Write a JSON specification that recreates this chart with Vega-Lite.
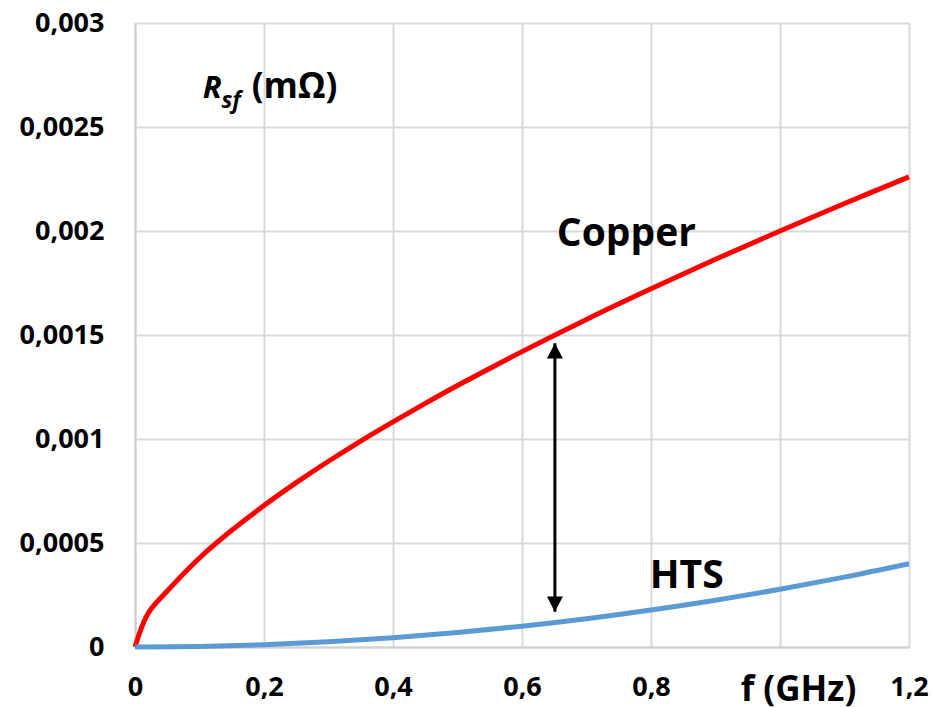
{
  "$schema": "https://vega.github.io/schema/vega-lite/v6.json",
  "width": 774,
  "height": 624,
  "autosize": {"type": "none"},
  "padding": {"left": 135, "top": 23, "right": 24, "bottom": 61},
  "background": "white",
  "config": {
    "view": {"stroke": null},
    "font": "Open Sans",
    "axis": {
      "labelFont": "Open Sans",
      "labelFontWeight": "bold",
      "labelColor": "#000000",
      "labelFlush": false,
      "labelOverlap": false,
      "gridColor": "#d9d9d9",
      "gridWidth": 2,
      "domainColor": "#d0d0d0",
      "domainWidth": 2,
      "ticks": false
    }
  },
  "datasets": {
    "curves": [
      {"series": "Copper", "f": 0, "r": 0},
      {"series": "Copper", "f": 0.02, "r": 0.00016},
      {"series": "Copper", "f": 0.05, "r": 0.000269},
      {"series": "Copper", "f": 0.1, "r": 0.000428},
      {"series": "Copper", "f": 0.15, "r": 0.000561},
      {"series": "Copper", "f": 0.2, "r": 0.00068},
      {"series": "Copper", "f": 0.25, "r": 0.00079},
      {"series": "Copper", "f": 0.3, "r": 0.000893},
      {"series": "Copper", "f": 0.35, "r": 0.00099},
      {"series": "Copper", "f": 0.4, "r": 0.001082},
      {"series": "Copper", "f": 0.45, "r": 0.001171},
      {"series": "Copper", "f": 0.5, "r": 0.001257},
      {"series": "Copper", "f": 0.6, "r": 0.00142},
      {"series": "Copper", "f": 0.7, "r": 0.001575},
      {"series": "Copper", "f": 0.8, "r": 0.001722},
      {"series": "Copper", "f": 0.9, "r": 0.001864},
      {"series": "Copper", "f": 1.0, "r": 0.002},
      {"series": "Copper", "f": 1.1, "r": 0.002132},
      {"series": "Copper", "f": 1.2, "r": 0.00226},
      {"series": "HTS", "f": 0, "r": 0},
      {"series": "HTS", "f": 0.1, "r": 0.0000028},
      {"series": "HTS", "f": 0.2, "r": 0.0000111},
      {"series": "HTS", "f": 0.3, "r": 0.000025},
      {"series": "HTS", "f": 0.4, "r": 0.0000445},
      {"series": "HTS", "f": 0.5, "r": 0.0000695},
      {"series": "HTS", "f": 0.6, "r": 0.0001},
      {"series": "HTS", "f": 0.7, "r": 0.000136},
      {"series": "HTS", "f": 0.8, "r": 0.000178},
      {"series": "HTS", "f": 0.9, "r": 0.000225},
      {"series": "HTS", "f": 1.0, "r": 0.000278},
      {"series": "HTS", "f": 1.1, "r": 0.000336},
      {"series": "HTS", "f": 1.2, "r": 0.0004}
    ],
    "gap": [
      {"f": 0.651, "lo": 0.00017, "hi": 0.00146}
    ],
    "labels": [
      {"f": 0.654, "r": 0.00193, "text": "Copper"},
      {"f": 0.798, "r": 0.000284, "text": "HTS"}
    ]
  },
  "layer": [
    {
      "data": {"name": "curves"},
      "mark": {"type": "line", "strokeWidth": 5, "interpolate": "catmull-rom", "strokeCap": "butt"},
      "encoding": {
        "x": {
          "field": "f",
          "type": "quantitative",
          "scale": {"domain": [0, 1.2], "nice": false},
          "axis": {
            "values": [0, 0.2, 0.4, 0.6, 0.8, 1, 1.2],
            "labelExpr": "datum.value == 1 ? '' : replace(toString(datum.value), '.', ',')",
            "labelFontSize": 27,
            "labelPadding": 27,
            "title": "f (GHz)",
            "titleFont": "Open Sans",
            "titleFontWeight": "bold",
            "titleFontSize": 35,
            "titleColor": "#000000",
            "titleAlign": "center",
            "titleBaseline": "alphabetic",
            "titleX": 663,
            "titleY": 53
          }
        },
        "y": {
          "field": "r",
          "type": "quantitative",
          "scale": {"domain": [0, 0.003], "nice": false},
          "axis": {
            "values": [0, 0.0005, 0.001, 0.0015, 0.002, 0.0025, 0.003],
            "labelExpr": "replace(toString(datum.value), '.', ',')",
            "labelFontSize": 27,
            "labelPadding": 31,
            "title": null
          }
        },
        "color": {
          "field": "series",
          "type": "nominal",
          "scale": {"domain": ["Copper", "HTS"], "range": ["#ff0000", "#5b9bd5"]},
          "legend": null
        },
        "order": {"field": "f", "type": "quantitative"}
      }
    },
    {
      "data": {"name": "gap"},
      "mark": {"type": "rule", "color": "#000000", "strokeWidth": 3},
      "encoding": {
        "x": {"field": "f", "type": "quantitative"},
        "y": {"field": "lo", "type": "quantitative"},
        "y2": {"field": "hi"}
      }
    },
    {
      "data": {"name": "gap"},
      "mark": {"type": "point", "shape": "M0,0L-0.5,0.95L0.5,0.95Z", "size": 1024, "filled": true, "color": "#000000", "opacity": 1, "strokeWidth": 0},
      "encoding": {
        "x": {"field": "f", "type": "quantitative"},
        "y": {"field": "hi", "type": "quantitative"}
      }
    },
    {
      "data": {"name": "gap"},
      "mark": {"type": "point", "shape": "M0,0L-0.5,-0.95L0.5,-0.95Z", "size": 1024, "filled": true, "color": "#000000", "opacity": 1, "strokeWidth": 0},
      "encoding": {
        "x": {"field": "f", "type": "quantitative"},
        "y": {"field": "lo", "type": "quantitative"}
      }
    },
    {
      "data": {"name": "labels"},
      "mark": {"type": "text", "align": "left", "baseline": "alphabetic", "font": "Open Sans", "fontWeight": "bold", "fontSize": 39, "color": "#000000"},
      "encoding": {
        "x": {"field": "f", "type": "quantitative"},
        "y": {"field": "r", "type": "quantitative"},
        "text": {"field": "text"}
      }
    },
    {
      "data": {"values": [{"f": 0.105, "r": 0.00264, "text": "R"}]},
      "mark": {"type": "text", "align": "left", "baseline": "alphabetic", "font": "Open Sans", "fontWeight": "bold", "fontStyle": "italic", "fontSize": 31, "color": "#000000"},
      "encoding": {
        "x": {"field": "f", "type": "quantitative"},
        "y": {"field": "r", "type": "quantitative"},
        "text": {"field": "text"}
      }
    },
    {
      "data": {"values": [{"f": 0.134, "r": 0.00259, "text": "sf"}]},
      "mark": {"type": "text", "align": "left", "baseline": "alphabetic", "font": "Open Sans", "fontWeight": "bold", "fontStyle": "italic", "fontSize": 23, "color": "#000000"},
      "encoding": {
        "x": {"field": "f", "type": "quantitative"},
        "y": {"field": "r", "type": "quantitative"},
        "text": {"field": "text"}
      }
    },
    {
      "data": {"values": [{"f": 0.181, "r": 0.00264, "text": "(mΩ)"}]},
      "mark": {"type": "text", "align": "left", "baseline": "alphabetic", "font": "Open Sans", "fontWeight": "bold", "fontSize": 35, "color": "#000000"},
      "encoding": {
        "x": {"field": "f", "type": "quantitative"},
        "y": {"field": "r", "type": "quantitative"},
        "text": {"field": "text"}
      }
    }
  ]
}
